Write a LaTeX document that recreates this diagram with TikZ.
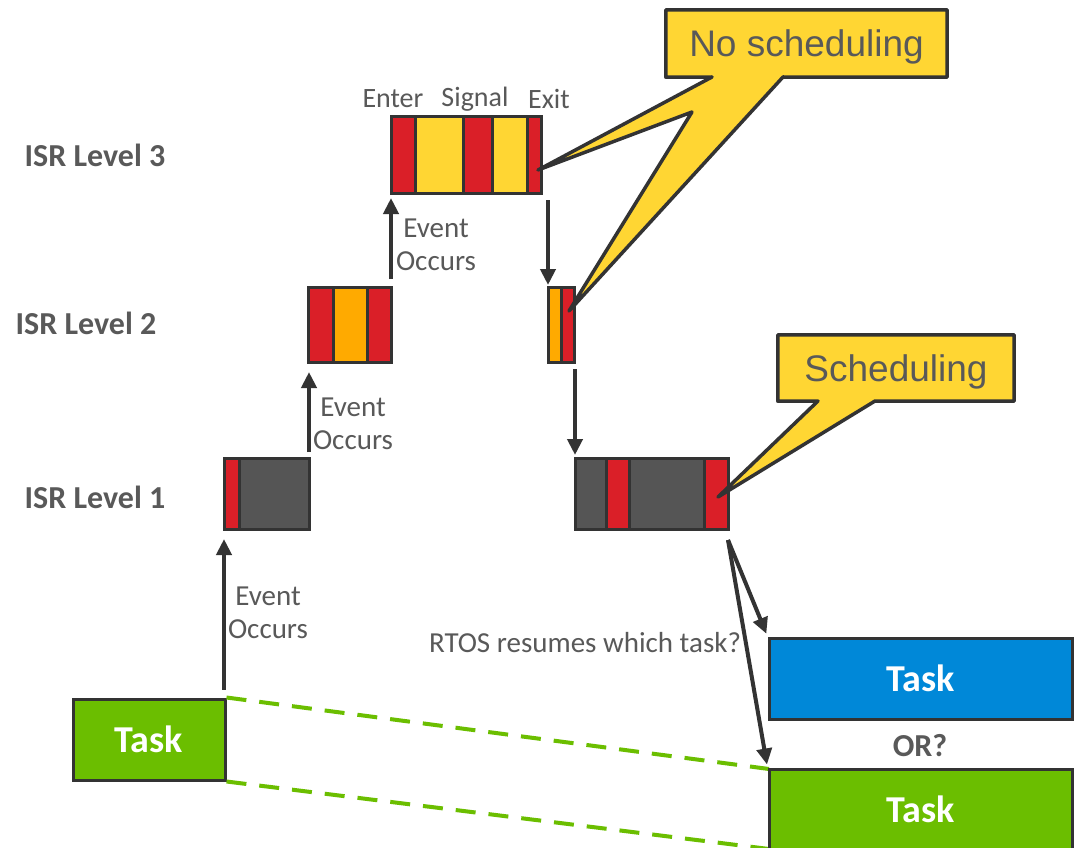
\documentclass[tikz,border=0pt]{standalone}
\usepackage{fontspec}
\setmainfont{Carlito}
\newfontfamily\arialfont{Liberation Sans}
\usetikzlibrary{arrows.meta}

\definecolor{segred}{HTML}{DA1F28}
\definecolor{segyellow}{HTML}{FFD633}
\definecolor{segorange}{HTML}{FFAA00}
\definecolor{seggray}{HTML}{555555}
\definecolor{linedark}{HTML}{333333}
\definecolor{txtgray}{HTML}{595959}
\definecolor{taskblue}{HTML}{0088D8}
\definecolor{taskgreen}{HTML}{6BBE00}

\pgfdeclarelayer{front}
\pgfdeclarelayer{fronttext}
\pgfsetlayers{main,front,fronttext}

\tikzset{
  segbox/.style={draw=linedark, line width=3pt, inner sep=0pt, outer sep=0pt},
  levellabel/.style={text=txtgray, font=\fontsize{32}{36}\selectfont\bfseries},
  phaselabel/.style={text=txtgray, font=\fontsize{28}{33}\selectfont, inner sep=0pt},
  smalllabel/.style={text=txtgray, font=\fontsize{29}{33}\selectfont, align=center, inner sep=0pt},
  taskbox/.style={draw=linedark, line width=3pt, text=white, inner sep=0pt,
    font=\fontsize{38}{42}\selectfont\bfseries},
  arr/.style={draw=linedark, line width=4pt, -{Triangle[length=16pt,width=15pt]}},
  lagline/.style={draw=taskgreen, line width=4pt, dash pattern=on 20pt off 13pt},
  calloutshape/.style={fill=segyellow, draw=linedark, line width=3.5pt, line join=round},
  callouttext/.style={text=txtgray, font=\arialfont\fontsize{37}{40}\selectfont,
    inner sep=0pt, text depth=0pt},
}

% one coloured slice of an ISR bar: name, colour, x1, y1, x2, y2
\newcommand{\segnode}[6]{%
  \node[segbox, fill=#2, minimum width={#5-#3}, minimum height={#6-#4}]
    (#1) at ({(#3+#5)/2},{(#4+#6)/2}) {};}

\begin{document}
\begin{tikzpicture}[x=1pt, y=-1pt]
\path[fill=white, use as bounding box] (0,0) rectangle (1079,848);

% level labels
\node[levellabel] (lvl3) at (95,155) {ISR Level 3};
\node[levellabel] (lvl2) at (86,323) {ISR Level 2};
\node[levellabel] (lvl1) at (95,497) {ISR Level 1};

% phase labels above the level-3 bar
\node[phaselabel] (enter)  at (393,99) {Enter};
\node[phaselabel] (signal) at (475,99) {Signal};
\node[phaselabel] (exit)   at (549,99) {Exit};

% ISR level 3
\segnode{l3a}{segred}{391}{117}{415}{193}
\segnode{l3b}{segyellow}{415}{117}{463}{193}
\segnode{l3c}{segred}{463}{117}{492}{193}
\segnode{l3d}{segyellow}{492}{117}{527}{193}
\segnode{l3e}{segred}{527}{117}{541}{193}

% ISR level 2
\segnode{l2a}{segred}{308}{287}{333}{362}
\segnode{l2b}{segorange}{333}{287}{367}{362}
\segnode{l2c}{segred}{367}{287}{391}{362}
\segnode{l2d}{segorange}{548}{287}{561}{362}
\segnode{l2e}{segred}{561}{287}{574}{362}

% ISR level 1
\segnode{l1a}{segred}{224}{458}{239}{529}
\segnode{l1b}{seggray}{239}{458}{309}{529}
\segnode{l1c}{seggray}{575}{458}{606}{529}
\segnode{l1d}{segred}{606}{458}{629}{529}
\segnode{l1e}{seggray}{629}{458}{704}{529}
\segnode{l1f}{segred}{704}{458}{728}{529}

% tasks
\node[taskbox, fill=taskgreen, minimum width=152, minimum height=81] (taskL) at (149,739.5) {Task};
\coordinate (taskGnw) at (769,769);
\draw[lagline] (taskL.north east) -- (taskGnw);
\draw[lagline] (taskL.south east) -- (769,849);
\node[taskbox, fill=taskblue, minimum width=303, minimum height=81] (taskB) at (920.5,678.5) {Task};
\node[taskbox, fill=taskgreen, minimum width=303, minimum height=81] (taskG) at (920.5,809.5) {Task};
\node[text=txtgray, font=\fontsize{32}{36}\selectfont\bfseries] (orq) at (920,746) {OR?};

% nesting arrows
\draw[arr, shorten <=8pt, shorten >=10pt] (l1a.south west |- taskL.north) -- (l1a.south west);
\draw[arr, shorten <=6pt, shorten >=10pt] (l1b.north east) -- (l1b.north east |- l2a.south);
\draw[arr, shorten <=8pt, shorten >=5pt] (l2c.north east) -- (l2c.north east |- l3a.south);
\draw[arr, shorten <=7pt, shorten >=2pt] (l2d.north west |- l3e.south) -- (l2d.north west);
\draw[arr, shorten <=7pt, shorten >=3pt] (l1c.north west |- l2e.south) -- (l1c.north west);

\node[smalllabel] (ev1) at (268,613) {Event\\Occurs};
\node[smalllabel] (ev2) at (353,424) {Event\\Occurs};
\node[smalllabel] (ev3) at (436,245) {Event\\Occurs};

% return to a task
\coordinate (fork) at ([yshift=-11pt]l1f.south east);
\draw[arr, shorten >=3pt] (fork) -- (taskB.north west);
\draw[arr, shorten >=3pt] (fork) -- (taskG.north west);
\node[smalllabel] (rtos) at (585,643) {RTOS resumes which task?};

% callouts
\coordinate (tipA) at (538,170);
\coordinate (tipB) at (569,311);
\coordinate (tipC) at (718,497);
\begin{pgfonlayer}{fronttext}
  \node[callouttext, minimum width=281, minimum height=67] (nosched) at (806.5,43.5) {No scheduling};
  \node[callouttext, minimum width=236, minimum height=66] (sched) at (896,368) {Scheduling};
\end{pgfonlayer}
\begin{pgfonlayer}{front}
  \path[calloutshape] (nosched.north west) -- (nosched.north east) -- (nosched.south east)
    -- (783,77) -- (tipB) -- (692,112) -- (tipA) -- (712,77) -- (nosched.south west) -- cycle;
  \path[calloutshape] (sched.north west) -- (sched.north east) -- (sched.south east)
    -- (875,401) -- (tipC) -- (818,401) -- (sched.south west) -- cycle;
\end{pgfonlayer}
\end{tikzpicture}
\end{document}
